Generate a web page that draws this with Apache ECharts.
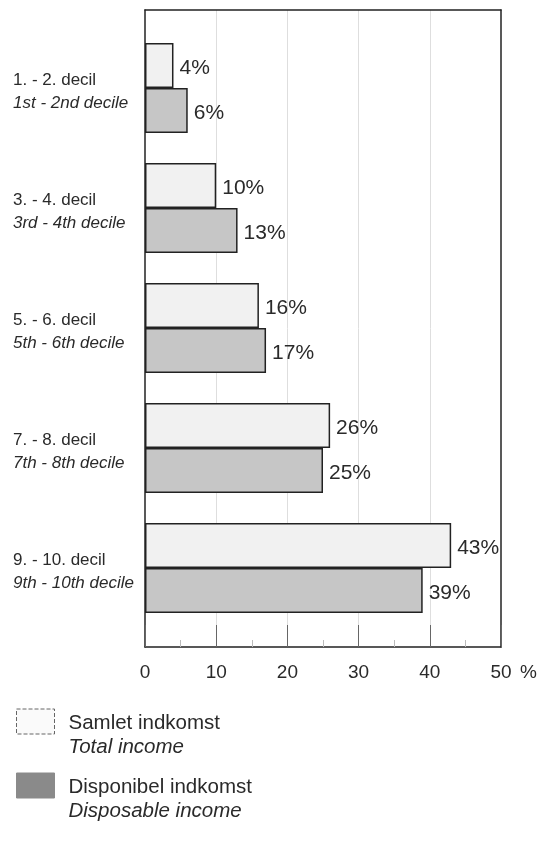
<!DOCTYPE html>
<html>
<head>
<meta charset="utf-8">
<script src="https://cdn.jsdelivr.net/npm/echarts@6/dist/echarts.min.js"></script>
<style>
html,body{margin:0;padding:0;background:#fff;}
#chart{width:550px;height:845px;}
</style>
</head>
<body>
<div id="chart"></div>
<script>
const categoriesDa = ['1. - 2. decil', '3. - 4. decil', '5. - 6. decil', '7. - 8. decil', '9. - 10. decil'];
const categoriesEn = ['1st - 2nd decile', '3rd - 4th decile', '5th - 6th decile', '7th - 8th decile', '9th - 10th decile'];
const totalIncome = [4, 10, 16, 26, 43];
const disposableIncome = [6, 13, 17, 25, 39];
const seriesNamesDa = ['Samlet indkomst', 'Disponibel indkomst'];
const seriesNamesEn = ['Total income', 'Disposable income'];
const axisMin = 0, axisMax = 50, axisStep = 10;
const axisUnit = '%';

const FONT = '"Liberation Sans", Arial, Helvetica, sans-serif';
const TXT = '#2a2a2a';
const LIGHT = '#f1f1f1';
const DARK = '#c6c6c6';
function frame() { return {show: true, onZero: false, lineStyle: {color: '#222', width: 1.5}}; }

const chart = echarts.init(document.getElementById('chart'), null, {renderer: 'canvas'});

const labelOpt = {
  show: true,
  position: 'right',
  distance: 6,
  offset: [0, 3],
  formatter: p => p.value + '%',
  fontFamily: FONT,
  fontSize: 21,
  color: TXT
};

function legendFor(i, top, itemStyle) {
  return {
    orient: 'vertical',
    left: 16,
    top: top,
    padding: 0,
    itemWidth: 38,
    itemHeight: 25,
    icon: 'rect',
    selectedMode: false,
    data: [{name: seriesNamesDa[i], itemStyle: itemStyle}],
    formatter: name => '{a|' + name + '}\n{b|' + seriesNamesEn[i] + '}',
    textStyle: {
      fontFamily: FONT,
      color: TXT,
      padding: [28, 0, 0, 9],
      rich: {
        a: {fontFamily: FONT, fontSize: 20.5, lineHeight: 24, color: TXT},
        b: {fontFamily: FONT, fontSize: 20.5, lineHeight: 24, fontStyle: 'italic', color: TXT}
      }
    }
  };
}

function hiddenAxis(extra) {
  return Object.assign({
    type: 'value', axisLine: frame(),
    axisLabel: {show: false}, axisTick: {show: false}, splitLine: {show: false}
  }, extra);
}

const option = {
  animation: false,
  backgroundColor: '#ffffff',
  textStyle: {fontFamily: FONT},
  grid: [
    {left: 145, right: 49, top: 10, height: 637, show: false},
    {left: 145, right: 49, top: 28, height: 600, show: false}
  ],
  legend: [
    legendFor(0, 708.5, {color: '#fafafa', borderColor: '#666', borderWidth: 1, borderType: 'dashed'}),
    legendFor(1, 772.5, {color: '#8a8a8a', borderColor: '#8a8a8a', borderWidth: 1})
  ],
  xAxis: [
    {
      gridIndex: 0, type: 'value', min: axisMin, max: axisMax, interval: axisStep, position: 'bottom',
      axisLine: frame(),
      axisTick: {show: true, inside: true, length: 22, lineStyle: {color: '#666', width: 1}},
      minorTick: {show: true, splitNumber: 2, length: 7, lineStyle: {color: '#bbb'}},
      splitLine: {show: true, showMinLine: false, showMaxLine: false, lineStyle: {color: '#dedede', width: 1}},
      axisLabel: {fontFamily: FONT, fontSize: 19, color: TXT, margin: 16},
      name: '\n' + axisUnit, nameLocation: 'end', nameGap: 19,
      nameTextStyle: {fontFamily: FONT, fontSize: 19, lineHeight: 52, color: TXT, align: 'left', verticalAlign: 'middle'}
    },
    {
      gridIndex: 1, type: 'value', min: axisMin, max: axisMax, interval: axisStep,
      show: false
    },
    hiddenAxis({gridIndex: 0, min: axisMin, max: axisMax, position: 'top'})
  ],
  yAxis: [
    hiddenAxis({gridIndex: 0, min: 0, max: 1, position: 'left'}),
    {
      gridIndex: 1, type: 'category', inverse: true,
      data: categoriesDa,
      axisLine: {show: false}, axisTick: {show: false}, splitLine: {show: false},
      axisLabel: {
        align: 'left',
        margin: 132,
        padding: [7, 0, 0, 0],
        formatter: (v, idx) => '{a|' + v + '}\n{b|' + categoriesEn[idx] + '}',
        rich: {
          a: {fontFamily: FONT, fontSize: 17, lineHeight: 23, color: TXT},
          b: {fontFamily: FONT, fontSize: 17, lineHeight: 23, fontStyle: 'italic', color: TXT}
        }
      }
    },
    hiddenAxis({gridIndex: 0, min: 0, max: 1, position: 'right'})
  ],
  series: [
    {
      name: seriesNamesDa[0], type: 'bar', xAxisIndex: 1, yAxisIndex: 1,
      data: totalIncome, barWidth: 45, barGap: '0%',
      itemStyle: {color: LIGHT, borderColor: '#222', borderWidth: 1.5},
      label: labelOpt
    },
    {
      name: seriesNamesDa[1], type: 'bar', xAxisIndex: 1, yAxisIndex: 1,
      data: disposableIncome, barWidth: 45, barGap: '0%',
      itemStyle: {color: DARK, borderColor: '#222', borderWidth: 1.5},
      label: labelOpt
    }
  ]
};
chart.setOption(option);
</script>
</body>
</html>
